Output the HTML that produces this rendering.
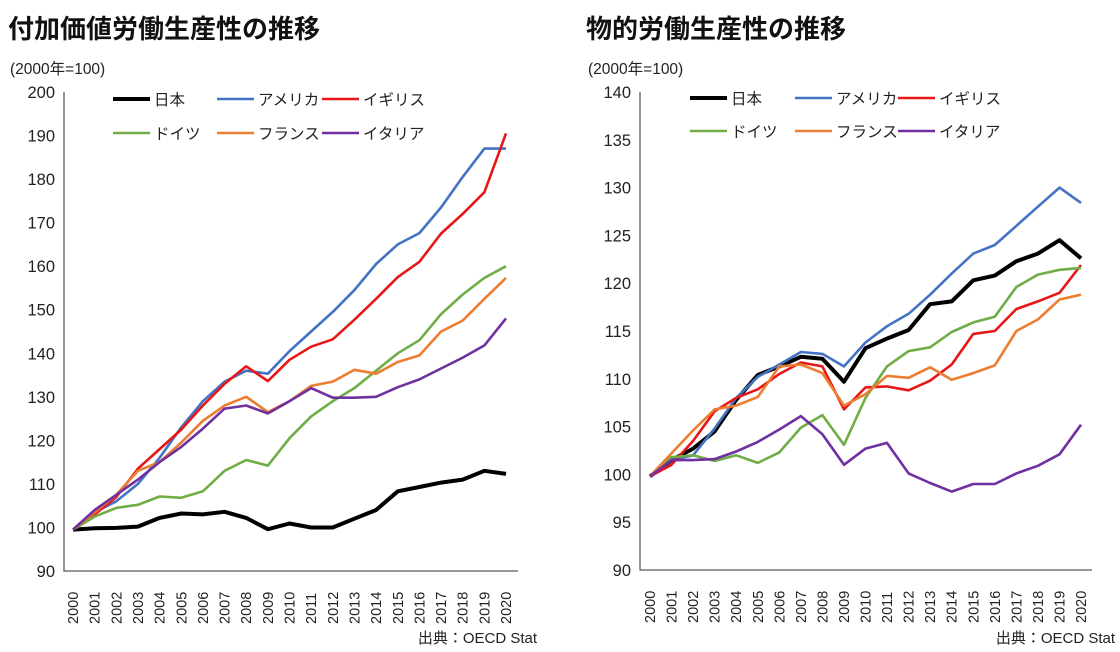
<!DOCTYPE html>
<html><head><meta charset="utf-8"><style>
body{margin:0;background:#fff;}
svg{display:block;font-family:"Liberation Sans","Noto Sans CJK JP",sans-serif;}
</style></head><body>
<svg id="s" width="1120" height="652">
<text x="8" y="38" font-size="26" font-weight="bold" fill="#111">付加価値労働生産性の推移</text>
<text x="10" y="74" font-size="15.5" fill="#222">(2000年=100)</text>
<text x="537" y="643" font-size="15" text-anchor="end" fill="#222">出典：OECD Stat</text>
<text x="586" y="38" font-size="26" font-weight="bold" fill="#111">物的労働生産性の推移</text>
<text x="588" y="74" font-size="15.5" fill="#222">(2000年=100)</text>
<text x="1115" y="643" font-size="15" text-anchor="end" fill="#222">出典：OECD Stat</text>
</svg>
<script>
const years=[2000,2001,2002,2003,2004,2005,2006,2007,2008,2009,2010,2011,2012,2013,2014,2015,2016,2017,2018,2019,2020];
const seriesNames=["日本","アメリカ","イギリス","ドイツ","フランス","イタリア"];
const seriesKeys=["japan","usa","uk","germany","france","italy"];
const colors=["#000000","#4472c4","#e81717","#70ad47","#ed7d31","#7030a0"];
const leftTicks=[90,100,110,120,130,140,150,160,170,180,190,200];
const rightTicks=[90,95,100,105,110,115,120,125,130,135,140];
const leftJapan=[99.5,99.8,99.9,100.2,102.2,103.2,103,103.6,102.2,99.6,100.9,100,100,102,104,108.3,109.3,110.3,111,113,112.3];
const leftUsa=[99.5,103.5,106,110,116,123,129,133.5,136,135.3,140.5,145,149.5,154.5,160.5,165,167.6,173.5,180.5,187,187];
const leftUk=[99.5,103,107,113.5,118,122.5,128,133,137,133.6,138.5,141.5,143.2,147.7,152.5,157.5,161,167.5,172,177,190.5];
const leftGermany=[99.5,102.5,104.5,105.2,107.1,106.8,108.3,113,115.5,114.2,120.5,125.5,129,132,136,140,143,149,153.5,157.3,160];
const leftFrance=[99.5,103.5,107.5,113,115,119.5,124.5,128,130,126.5,129,132.5,133.5,136.2,135.3,138,139.5,145,147.5,152.5,157.3];
const leftItaly=[99.5,104,107.5,111,115,118.5,122.7,127.3,128,126.2,129,132,129.8,129.8,130,132.2,134,136.5,139,141.8,148];
const rightJapan=[99.8,101.5,102.7,104.5,107.8,110.4,111.3,112.3,112.1,109.7,113.2,114.2,115.1,117.8,118.1,120.3,120.8,122.3,123.1,124.5,122.6];
const rightUsa=[99.8,101.5,102,104.8,108,110.2,111.5,112.8,112.6,111.3,113.8,115.5,116.8,118.8,121,123.1,124,126,128,130,128.4];
const rightUk=[99.8,101,103.5,106.6,108,108.9,110.5,111.7,111.3,106.8,109.1,109.2,108.8,109.8,111.5,114.7,115,117.3,118.1,119,121.9];
const rightGermany=[99.8,101.8,102,101.4,102,101.2,102.3,104.9,106.2,103.1,108,111.3,112.9,113.3,114.9,115.9,116.5,119.6,120.9,121.4,121.6];
const rightFrance=[99.8,102.2,104.6,106.8,107.2,108.1,111.3,111.5,110.6,107.2,108.4,110.3,110.1,111.2,109.9,110.6,111.4,115,116.2,118.3,118.8];
const rightItaly=[99.8,101.5,101.5,101.6,102.4,103.4,104.7,106.1,104.2,101,102.7,103.3,100.1,99.1,98.2,99,99,100.1,100.9,102.1,105.2];

const svg=document.getElementById('s');
const NS="http://www.w3.org/2000/svg";
function mk(tag,attrs,parent){const e=document.createElementNS(NS,tag);for(const k in attrs)e.setAttribute(k,attrs[k]);(parent||svg).appendChild(e);return e;}

function chart(prefix,cfg,data,ticks){
  const g=mk('g',{});
  
  
  const x=i=>cfg.x0+(cfg.x1-cfg.x0)*i/(years.length-1);
  const y=v=>cfg.yBot-(v-cfg.vmin)/(cfg.vmax-cfg.vmin)*(cfg.yBot-cfg.yTop);
  const ax=mk('path',{d:`M${cfg.ax},${cfg.yTop} V${cfg.yBot} H${cfg.axEnd}`,stroke:'#595959','stroke-width':1.3,fill:'none'},g);
  
  
  ticks.forEach(t=>{
    const tx=mk('text',{x:cfg.ax-9,y:y(t)+6,'font-size':16.5,'text-anchor':'end',fill:'#222'},g);
    tx.textContent=t;
    
    
  });
  years.forEach((yr,i)=>{
    const tx=mk('text',{transform:`translate(${x(i)+5},${cfg.yBot+53}) rotate(-90)`,'font-size':14.5,fill:'#222'},g);
    tx.textContent=yr;
    
    
  });
  data.forEach((vals,s)=>{
    const p=mk('polyline',{points:vals.map((v,i)=>x(i).toFixed(1)+','+y(v).toFixed(1)).join(' '),fill:'none',stroke:colors[s],'stroke-width':s===0?4:2.6,'stroke-linejoin':'round'},g);
    
    
  });
  seriesNames.forEach((n,s)=>{
    const col=s%3,row=Math.floor(s/3);
    const lx=cfg.legX[col],ly=cfg.legY[row];
    const lg=mk('g',{},g);
    
    
    mk('line',{x1:lx,y1:ly,x2:lx+37,y2:ly,stroke:colors[s],'stroke-width':s===0?4:2.6},lg);
    const t=mk('text',{x:lx+41,y:ly+6,'font-size':15.5,fill:'#222'},lg);
    t.textContent=n;
  });
}
chart('left',{x0:73,x1:506,ax:64,axEnd:518,yTop:92,yBot:571,vmin:90,vmax:200,legX:[113,217,322],legY:[99,133]},
  [leftJapan,leftUsa,leftUk,leftGermany,leftFrance,leftItaly],leftTicks);
chart('right',{x0:650,x1:1081,ax:640,axEnd:1092,yTop:92,yBot:570,vmin:90,vmax:140,legX:[690,795,898],legY:[98,131]},
  [rightJapan,rightUsa,rightUk,rightGermany,rightFrance,rightItaly],rightTicks);
</script>
</body></html>
